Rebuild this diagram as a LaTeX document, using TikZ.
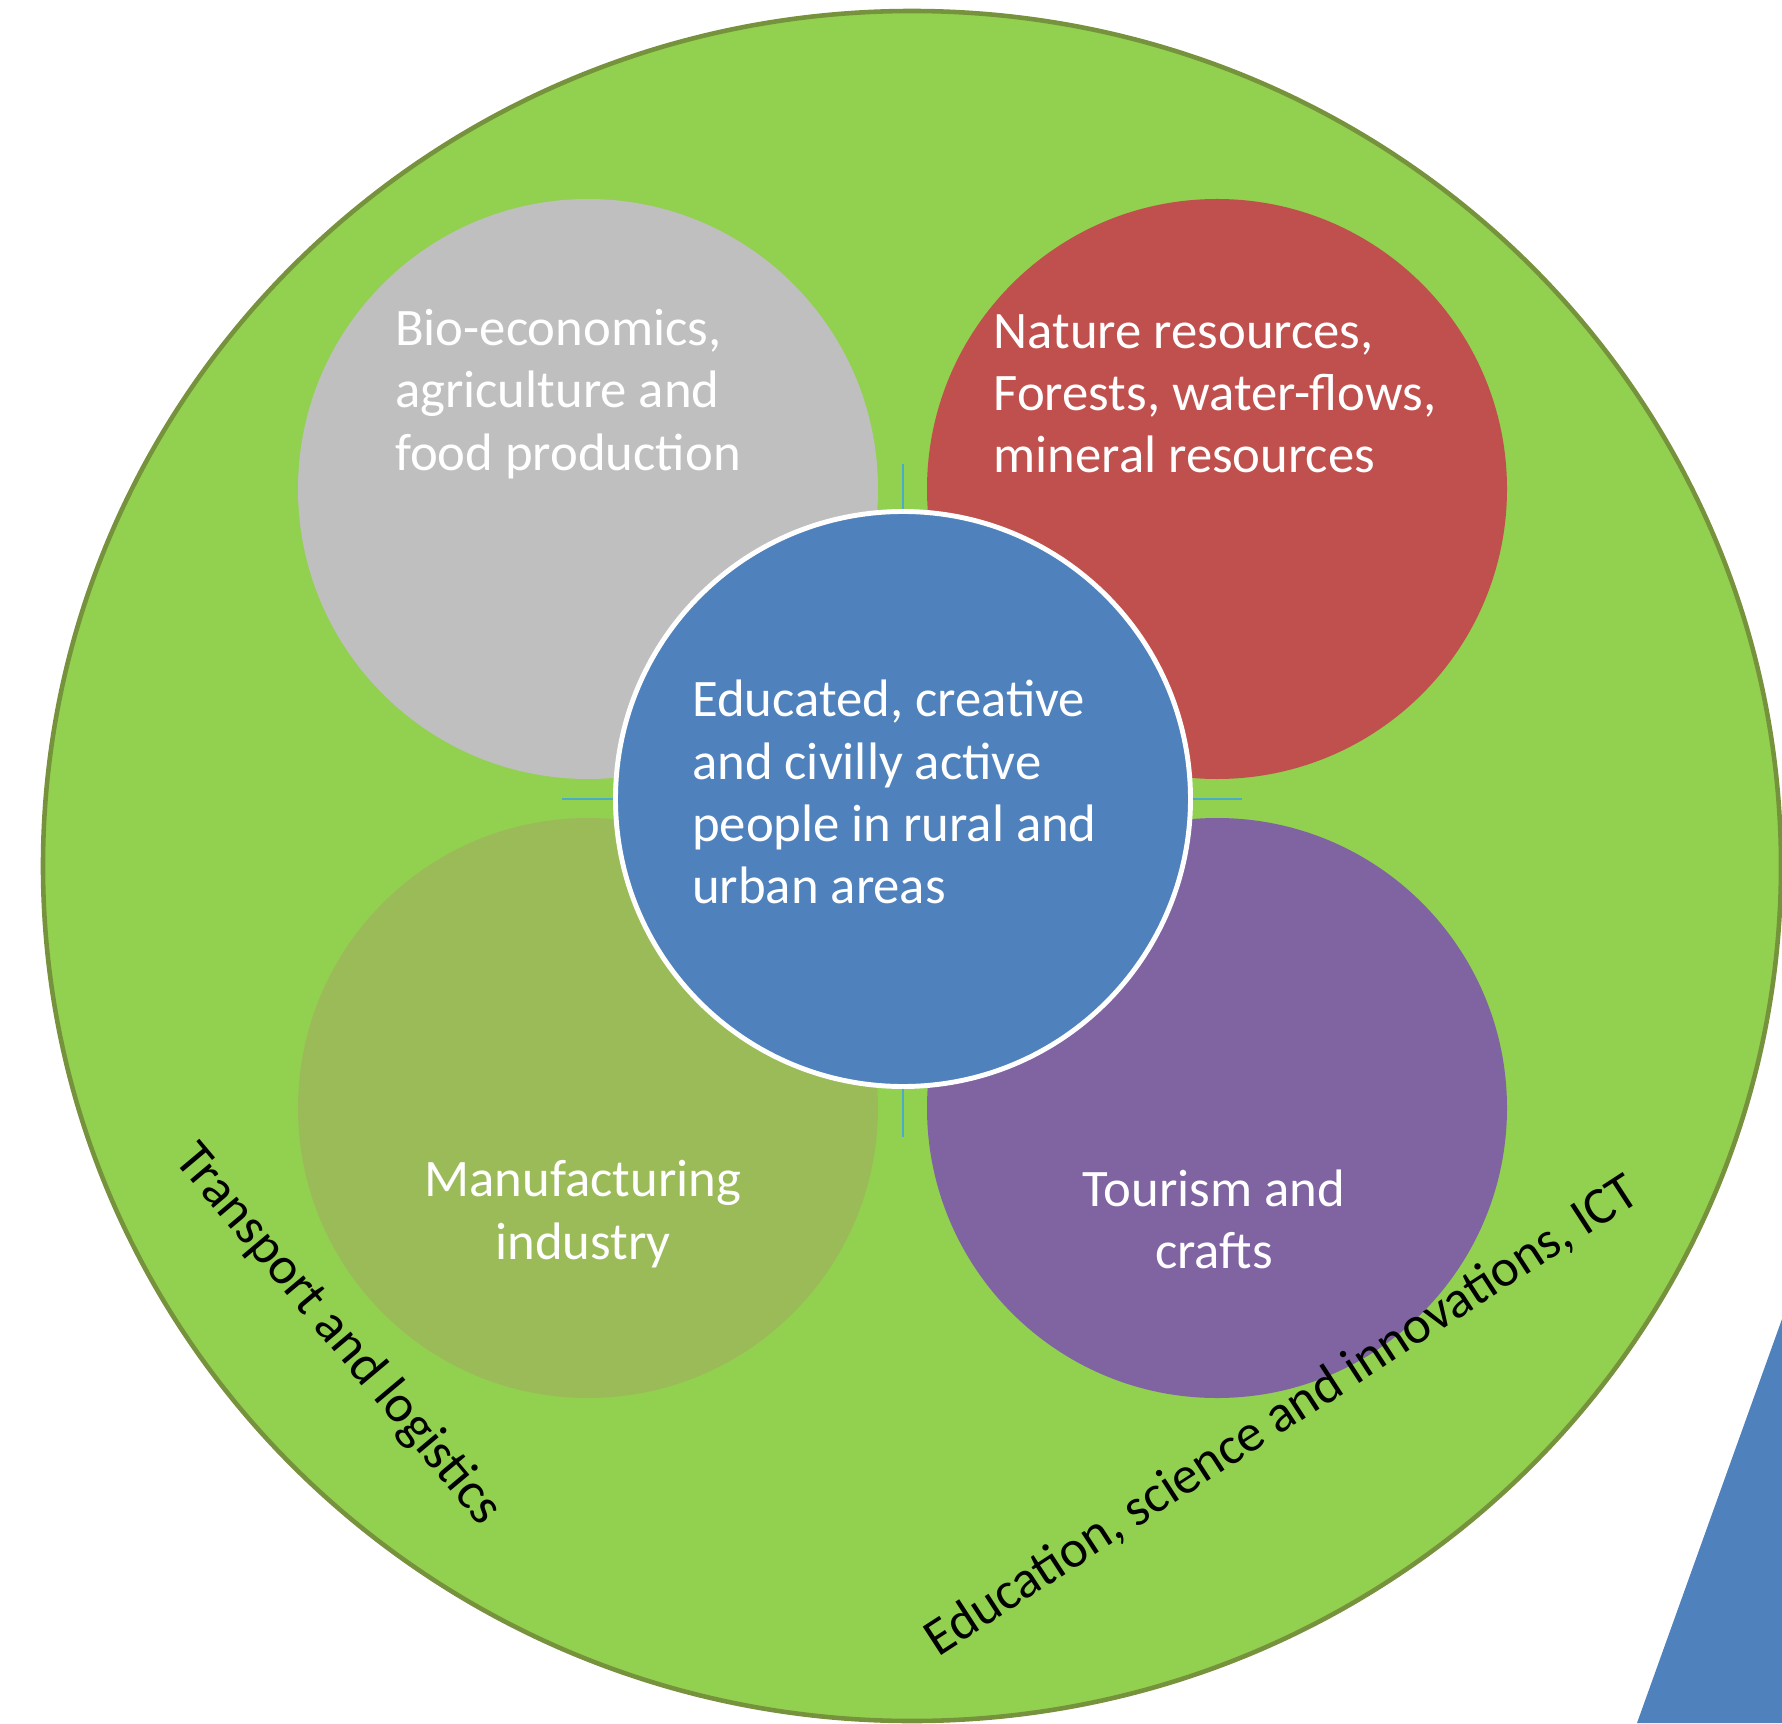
\documentclass[tikz,border=0pt]{standalone}
\usepackage{fontspec}
\setmainfont{Carlito}
\usetikzlibrary{positioning}
\definecolor{ringgreen}{HTML}{92D050}
\definecolor{ringedge}{HTML}{76923C}
\definecolor{biogray}{HTML}{BFBFBF}
\definecolor{natred}{HTML}{C0504D}
\definecolor{manolive}{HTML}{9BBB59}
\definecolor{tourpurple}{HTML}{8064A2}
\definecolor{coreblue}{HTML}{4F81BD}
\definecolor{guideblue}{HTML}{4BACC6}
\tikzset{
   field/.style={circle, minimum size=5.8cm, inner sep=0pt},
   fieldtext/.style={text=white, font=\fontsize{15}{17.7}\selectfont, inner sep=0pt},
   ringtext/.style={text=black, font=\fontsize{15}{17.7}\selectfont, inner sep=0pt},
   guide/.style={draw=guideblue, line width=0.6pt}
}

\begin{document}
\begin{tikzpicture}
      \useasboundingbox (-9.03,-9.24) rectangle (8.79,7.99);
      \coordinate (o) at (0,0);
      \coordinate (ring) at (0.09,-0.67);

      \coordinate[above left =3.10cm and 3.15cm of o] (bio);
      \coordinate[above right=3.10cm and 3.14cm of o] (nat);
      \coordinate[below left =3.09cm and 3.15cm of o] (man);
      \coordinate[below right=3.09cm and 3.14cm of o] (tour);

      \coordinate[above=3.35cm of o] (o-n);
      \coordinate[below=3.38cm of o] (o-s);
      \coordinate[left =3.41cm of o] (o-w);
      \coordinate[right=3.39cm of o] (o-e);

      \draw[fill=ringgreen, draw=ringedge, line width=1.3pt] (ring) ellipse (8.69cm and 8.55cm);
      \fill[coreblue] (8.79,-5.2) -- (7.34,-9.24) -- (8.79,-9.24) -- cycle;

      \node[field, fill=biogray] (bio-c) at (bio) {};
      \node[field, fill=natred] (nat-c) at (nat) {};
      \node[field, fill=manolive] (man-c) at (man) {};
      \node[field, fill=tourpurple] (tour-c) at (tour) {};

      \draw[guide] (o-n) -- (o-s);
      \draw[guide] (o-w) -- (o-e);
      \node[field, fill=coreblue, draw=white, line width=1.4pt, minimum size=5.75cm] (core) at (o) {};

      \node[fieldtext, align=left] (bio-t) at ([xshift=-0.2cm, yshift=0.95cm]bio)
         {Bio-economics,\\agriculture and\\food production};
      \node[fieldtext, align=left] (nat-t) at ([xshift=-0.02cm, yshift=0.95cm]nat)
         {Nature resources,\\Forests, water-flows,\\mineral resources};
      \node[fieldtext, align=left] (core-t) at ([xshift=-0.085cm, yshift=0.07cm]o)
         {Educated, creative\\and civilly active\\people in rural and\\urban areas};
      \node[fieldtext, align=center] (man-t) at ([xshift=-0.05cm, yshift=-1.06cm]man)
         {Manufacturing\\industry};
      \node[fieldtext, align=center] (tour-t) at ([xshift=-0.03cm, yshift=-1.11cm]tour)
         {Tourism and\\crafts};

      \node[ringtext, rotate=-50] (trans-t) at (-5.65,-5.36) {Transport and logistics};
      \node[ringtext, rotate=33] (edu-t) at (3.79,-6.17) {Education, science and innovations, ICT};
\end{tikzpicture}
\end{document}
